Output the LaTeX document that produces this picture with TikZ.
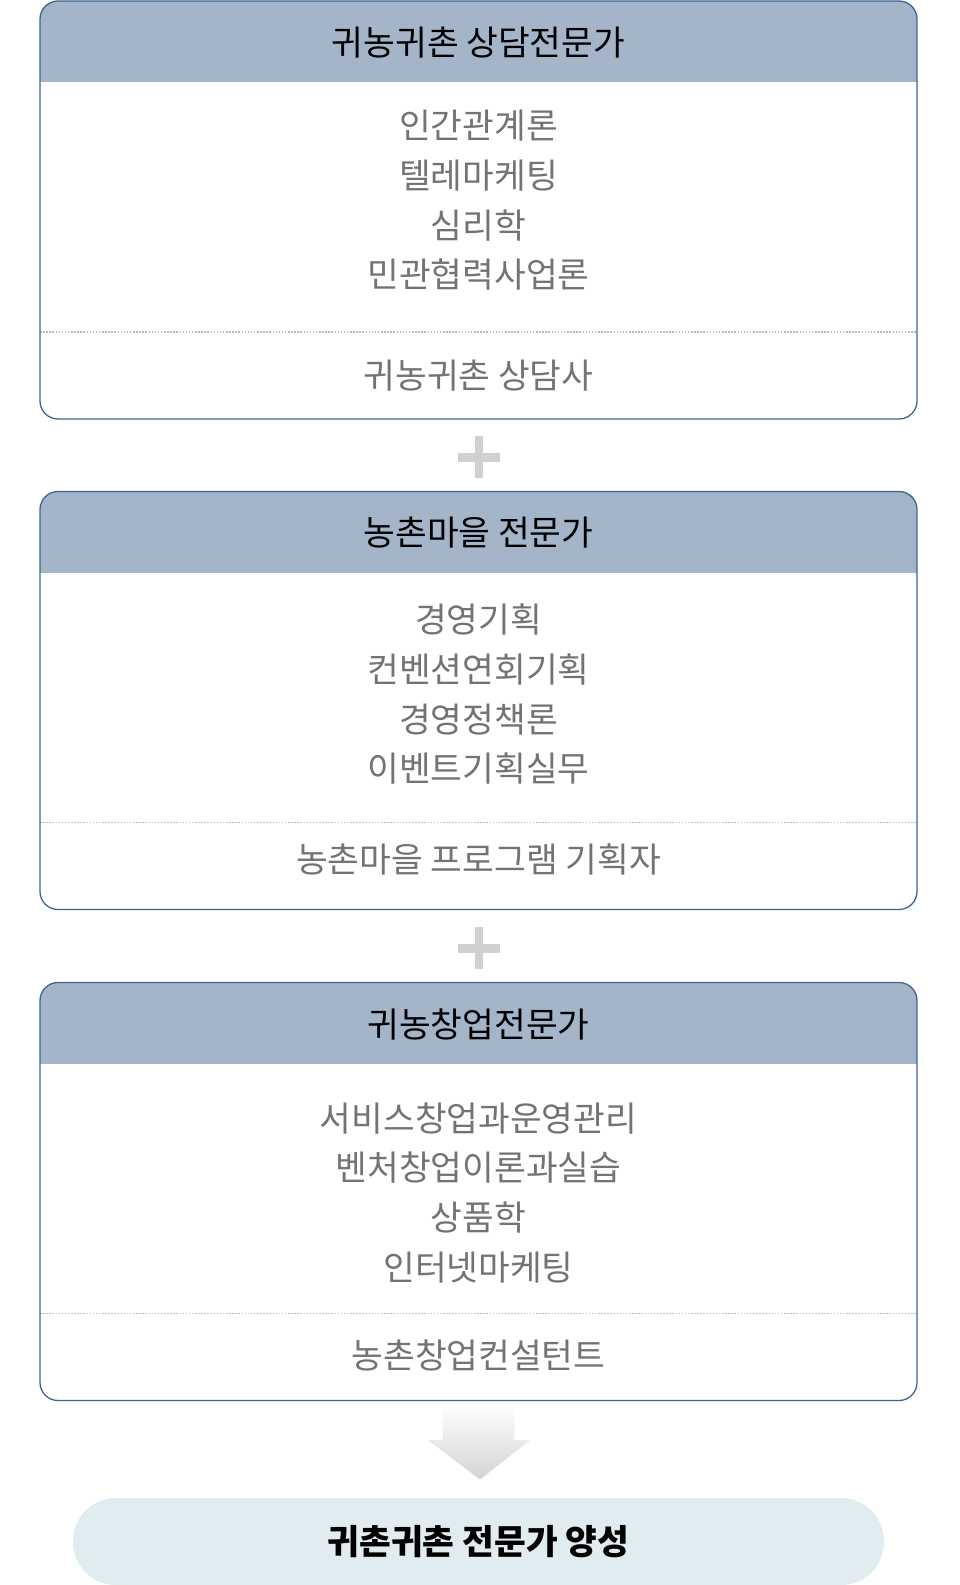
\documentclass[tikz,border=0pt]{standalone}
\usepackage{fontspec}
\setmainfont{Noto Sans CJK KR}
\definecolor{hdr}{HTML}{A4B4C9}
\definecolor{bord}{HTML}{3F6494}
\definecolor{bodytxt}{HTML}{737373}
\definecolor{pillc}{HTML}{E1ECF0}
\definecolor{plusc}{HTML}{D0D0D0}
\definecolor{dotc}{HTML}{BBBBBB}
\tikzset{
  box/.style={draw=bord, line width=1.3pt, rounded corners=18pt, fill=white,
    minimum width=877pt, minimum height=418pt, inner sep=0pt,
    path picture={
      \fill[hdr, sharp corners] (path picture bounding box.north west) rectangle ([yshift=-81pt]path picture bounding box.north east);
      \draw[dotc, sharp corners, line width=1.5pt, dash pattern=on 1.5pt off 1.6pt]
        ([yshift=-331pt]path picture bounding box.north west) -- ([yshift=-331pt]path picture bounding box.north east);
    }},
  hdrtxt/.style={font=\fontsize{34.5}{40}\selectfont, text=black, inner sep=0pt},
  bodytext/.style={font=\fontsize{34.5}{49.7}\selectfont, text=bodytxt, align=center, inner sep=0pt},
  pillbox/.style={fill=pillc, rounded corners=43pt, minimum width=811pt, minimum height=87pt, inner sep=0pt},
  pilltxt/.style={font=\fontsize{34.5}{40}\selectfont\bfseries, text=black, inner sep=0pt},
}
\begin{document}
\begin{tikzpicture}[x=1pt,y=-1pt]
\useasboundingbox (0,0) rectangle (960,1585);

% Box 1
\node[box] (box1) at (478.5,210) {};
\node[hdrtxt] (h1) at (478.5,42.5) {귀농귀촌 상담전문가};
\node[bodytext] (l1) at (478.5,200.5) {인간관계론\\텔레마케팅\\심리학\\민관협력사업론};
\node[bodytext] (s1) at (478.5,376) {귀농귀촌 상담사};

% plus 1
\fill[plusc] (458,453) rectangle (500,461.5);
\fill[plusc] (474.7,435.7) rectangle (483.3,478);

% Box 2
\node[box] (box2) at (478.5,700.5) {};
\node[hdrtxt] (h2) at (478.5,532.5) {농촌마을 전문가};
\node[bodytext] (l2) at (478.5,694.2) {경영기획\\컨벤션연회기획\\경영정책론\\이벤트기획실무};
\node[bodytext] (s2) at (478.5,859) {농촌마을 프로그램 기획자};

% plus 2
\fill[plusc] (458,944) rectangle (500,952.5);
\fill[plusc] (474.7,926.7) rectangle (483.3,969);

% Box 3
\node[box] (box3) at (478.5,1191.5) {};
\node[hdrtxt] (h3) at (478.5,1024.6) {귀농창업전문가};
\node[bodytext] (l3) at (478.5,1192.8) {서비스창업과운영관리\\벤처창업이론과실습\\상품학\\인터넷마케팅};
\node[bodytext] (s3) at (478.5,1355) {농촌창업컨설턴트};

% Arrow
\shade[top color=white, bottom color=black!17]
  (442.7,1402.5) -- (514.3,1402.5) -- (514.3,1440) -- (530,1440) -- (480,1479.5) -- (428,1440) -- (442.7,1440) -- cycle;

% Pill
\node[pillbox] (pill) at (478.5,1541.5) {};
\node[pilltxt] (pt) at (478.5,1542) {귀촌귀촌 전문가 양성};
\end{tikzpicture}
\end{document}
